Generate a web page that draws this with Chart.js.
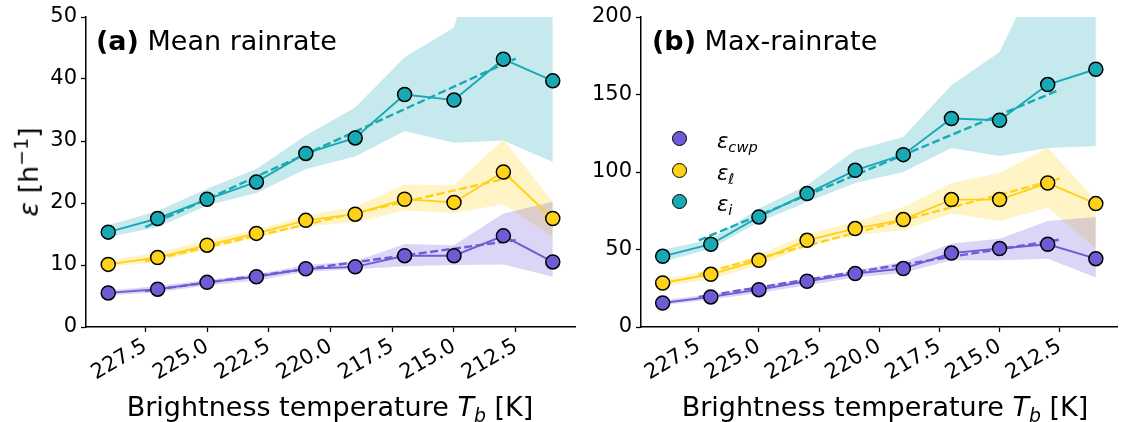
<!DOCTYPE html>
<html lang="en">
<head>
<meta charset="UTF-8">
<title>Rainrate efficiency vs brightness temperature</title>
<script src="https://cdn.jsdelivr.net/npm/chart.js"></script>
<style>
  body { margin: 0; background: #fff; font-family: "DejaVu Sans", sans-serif; color: #000; }
  #wrap { position: relative; width: 1126px; height: 422px; overflow: hidden; }
  canvas { position: absolute; top: 0; }
  .txt { position: absolute; white-space: nowrap; line-height: 1; z-index: 2; }
  .title { font-size: 27px; top: 27px; }
  .xlabel { font-size: 27px; top: 393px; transform: translateX(-50%); }
  .ylabel { font-size: 27px; left: 27px; top: 172px; transform: translate(-50%, -50%) rotate(-90deg); }
  .leg { position: absolute; left: 666px; z-index: 2; font-size: 21px; line-height: 1; }
  .leg span.dot { position: absolute; left: 6px; width: 13px; height: 13px; border-radius: 50%; border: 1.5px solid #000; }
  .leg span.lab { position: absolute; left: 51px; white-space: nowrap; }
  sub { font-size: 70%; vertical-align: -0.3em; }
  sup { font-size: 70%; vertical-align: 0.55em; }
</style>
</head>
<body>
<div id="wrap">
  <canvas id="chartA" width="590" height="422" style="left:0"></canvas>
  <canvas id="chartB" width="536" height="422" style="left:590px"></canvas>

  <div class="txt title" style="left:96px"><b>(a)</b> Mean rainrate</div>
  <div class="txt title" style="left:652px"><b>(b)</b> Max-rainrate</div>
  <div class="txt xlabel" style="left:330px">Brightness temperature <i>T</i><sub><i>b</i></sub> [K]</div>
  <div class="txt xlabel" style="left:885px">Brightness temperature <i>T</i><sub><i>b</i></sub> [K]</div>
  <div class="txt ylabel"><i>ε</i> [h<sup>−1</sup>]</div>

  <div class="leg" style="top:131px"><span class="dot" style="background:#6f5bd6"></span><span class="lab"><i>ε</i><sub><i>cwp</i></sub></span></div>
  <div class="leg" style="top:163px"><span class="dot" style="background:#ffd21a"></span><span class="lab"><i>ε</i><sub><i>ℓ</i></sub></span></div>
  <div class="leg" style="top:194px"><span class="dot" style="background:#18a9b5"></span><span class="lab"><i>ε</i><sub><i>i</i></sub></span></div>
</div>

<script>
// brightness temperature bins (K) and fit range
const temps = [229, 227, 225, 223, 221, 219, 217, 215, 213, 211];
const fitT = [227.5, 212.5];
const xTicks = [227.5, 225.0, 222.5, 220.0, 217.5, 215.0, 212.5];

// (a) mean rainrate
const meanCwp   = [5.5, 6.1, 7.2, 8.1, 9.4, 9.7, 11.5, 11.5, 14.7, 10.5];
const meanCwpLo = [5.1, 5.6, 6.7, 7.5, 8.9, 9.3, 9.8, 10.0, 10.1, 8.1];
const meanCwpHi = [5.9, 6.6, 7.6, 8.5, 10.0, 10.6, 13.4, 13.2, 18.3, 20.2];
const meanL     = [10.1, 11.2, 13.2, 15.1, 17.2, 18.2, 20.6, 20.1, 25.0, 17.5];
const meanLLo   = [9.7, 10.5, 12.6, 14.4, 16.2, 16.9, 18.8, 18.4, 19.8, 14.5];
const meanLHi   = [10.8, 12.0, 14.0, 15.7, 18.0, 19.4, 23.0, 22.9, 30.2, 20.2];
const meanI     = [15.3, 17.5, 20.6, 23.4, 28.0, 30.5, 37.5, 36.6, 43.2, 39.7];
const meanILo   = [14.5, 16.1, 19.6, 21.6, 25.5, 27.5, 31.6, 29.7, 30.1, 26.6];
const meanIHi   = [16.4, 18.7, 22.3, 25.5, 30.9, 35.4, 43.5, 48.3, 75, 70];
const meanFitCwp = [5.8, 14.0];
const meanFitL   = [10.6, 24.3];
const meanFitI   = [16.1, 43.3];

// (b) max rainrate
const maxCwp   = [15.5, 19.4, 24.1, 29.5, 34.5, 37.7, 47.7, 50.6, 53.4, 44.1];
const maxCwpLo = [14.0, 17.7, 21.9, 26.9, 31.9, 34.8, 43.0, 43.0, 44.1, 31.9];
const maxCwpHi = [17.2, 21.1, 26.3, 31.2, 36.6, 41.9, 53.8, 57.0, 68.4, 71.0];
const maxL     = [28.4, 34.0, 43.0, 55.9, 63.5, 69.3, 82.2, 82.2, 92.9, 79.6];
const maxLLo   = [26.3, 30.6, 39.8, 52.1, 59.2, 62.4, 73.2, 68.4, 77.0, 50.6];
const maxLHi   = [30.6, 36.6, 46.3, 60.3, 67.7, 77.4, 92.9, 99.4, 115.7, 81.7];
const maxI     = [45.6, 53.4, 71.0, 86.1, 101.1, 111.2, 134.5, 133.4, 156.4, 166.3];
const maxILo   = [41.9, 50.6, 67.7, 80.6, 92.9, 100.0, 115.5, 110.3, 115.5, 116.8];
const maxIHi   = [49.9, 56.4, 76.4, 91.4, 114.0, 122.6, 155.9, 177.4, 242, 230];
const maxFitCwp = [19.4, 56.4];
const maxFitL   = [34.0, 95.7];
const maxFitI   = [55.9, 153.1];

const colCwp = '#6f5bd6', colL = '#ffd21a', colI = '#18a9b5';

function pts(xs, ys) { return xs.map((x, i) => ({ x: x, y: ys[i] })); }

function alpha(hex, a) {
    const n = parseInt(hex.slice(1), 16);
    return `rgba(${n >> 16},${(n >> 8) & 255},${n & 255},${a})`;
}

function series(col, vals, lo, hi, fit) {
    return [
        { data: pts(temps, hi), fill: '+1', backgroundColor: alpha(col, 0.25), borderWidth: 0, pointRadius: 0, order: 30 },
        { data: pts(temps, lo), fill: false, borderWidth: 0, pointRadius: 0, order: 30 },
        { data: pts(fitT, fit), borderColor: col, borderWidth: 2.4, borderDash: [8, 3.5], pointRadius: 0, fill: false, order: 10 },
        { data: pts(temps, vals), borderColor: col, borderWidth: 1.9, pointRadius: 7, pointBackgroundColor: col,
          pointBorderColor: '#000', pointBorderWidth: 1.5, fill: false, order: 5 }
    ];
}

function makeChart(id, datasets, yMax, yStep, yWidth, rightPad) {
    new Chart(document.getElementById(id), {
        type: 'line',
        data: { datasets: datasets },
        options: {
            responsive: false,
            animation: false,
            layout: { padding: { left: 0, top: 17, right: rightPad, bottom: 0 } },
            plugins: { legend: { display: false }, tooltip: { enabled: false } },
            elements: { line: { tension: 0 } },
            scales: {
                x: {
                    type: 'linear', reverse: true, min: 210.1, max: 229.9,
                    afterBuildTicks: s => { s.ticks = xTicks.map(v => ({ value: v })); },
                    afterFit: s => { s.height = 95; },
                    grid: { display: true, drawOnChartArea: false, drawTicks: true, tickLength: 5, tickWidth: 1.3, tickColor: '#000' },
                    border: { display: true, color: '#000', width: 1.5 },
                    ticks: { color: '#000', font: { family: 'DejaVu Sans', size: 21 }, minRotation: 30, maxRotation: 30,
                             padding: 2, autoSkip: false, callback: v => v.toFixed(1) }
                },
                y: {
                    min: 0, max: yMax,
                    afterFit: s => { s.width = yWidth; },
                    grid: { display: true, drawOnChartArea: false, drawTicks: true, tickLength: 5, tickWidth: 1.3, tickColor: '#000' },
                    border: { display: true, color: '#000', width: 1.5 },
                    ticks: { color: '#000', font: { family: 'DejaVu Sans', size: 21 }, stepSize: yStep, padding: 4 }
                }
            }
        }
    });
}

makeChart('chartA', [
    ...series(colCwp, meanCwp, meanCwpLo, meanCwpHi, meanFitCwp),
    ...series(colL, meanL, meanLLo, meanLHi, meanFitL),
    ...series(colI, meanI, meanILo, meanIHi, meanFitI)
], 50, 10, 86, 15);

makeChart('chartB', [
    ...series(colCwp, maxCwp, maxCwpLo, maxCwpHi, maxFitCwp),
    ...series(colL, maxL, maxLLo, maxLHi, maxFitL),
    ...series(colI, maxI, maxILo, maxIHi, maxFitI)
], 200, 50, 51, 3);
</script>
</body>
</html>
